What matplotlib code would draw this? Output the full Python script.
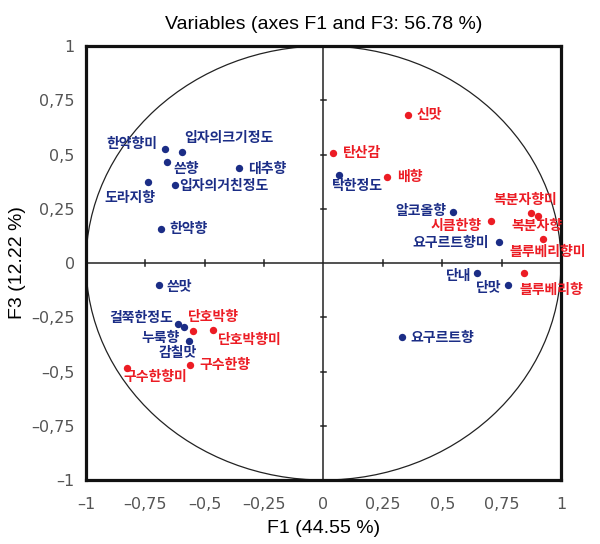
import matplotlib
matplotlib.use("Agg")
import matplotlib.pyplot as plt
import numpy as np
from matplotlib.patches import Circle
from matplotlib.ticker import FuncFormatter

# variable names, coordinates on F1/F3, and group (b = blue, r = red)
names = [
    "한약향미", "입자의크기정도", "쓴향", "대추향", "도라지향", "입자의거친정도", "한약향",
    "신맛", "탄산감", "탁한정도", "배향", "알코올향", "시큼한향", "복분자향미", "복분자향",
    "블루베리향미", "요구르트향미", "단내", "단맛", "블루베리향", "요구르트향",
    "쓴맛", "걸쭉한정도", "누룩향", "감칠맛", "단호박향", "단호박향미", "구수한향", "구수한향미",
]
f1 = [
    -0.667, -0.594, -0.658, -0.354, -0.740, -0.625, -0.686,
    0.354, 0.041, 0.067, 0.266, 0.544, 0.705, 0.874, 0.902,
    0.923, 0.739, 0.645, 0.776, 0.846, 0.329,
    -0.693, -0.611, -0.586, -0.565, -0.548, -0.467, -0.562, -0.829,
]
f3 = [
    0.524, 0.512, 0.466, 0.440, 0.375, 0.358, 0.159,
    0.683, 0.509, 0.406, 0.398, 0.236, 0.193, 0.232, 0.216,
    0.113, 0.098, -0.045, -0.099, -0.048, -0.343,
    -0.102, -0.279, -0.296, -0.361, -0.312, -0.307, -0.472, -0.484,
]
group = [
    "b", "b", "b", "b", "b", "b", "b",
    "r", "r", "b", "r", "b", "r", "r", "r",
    "r", "b", "b", "b", "r", "b",
    "b", "b", "b", "b", "r", "r", "r", "r",
]
# label placement: (dx px, dy px, ha)
label_pos = [
    (-8, 5, "right"), (2, 14, "left"), (6, -7, "left"), (9, -1, "left"),
    (-18, -16, "center"), (4, -1, "left"), (9, 0, "left"),
    (9, 0, "left"), (10, 0, "left"), (18, -11, "center"), (10, 0, "left"),
    (-6, 1, "right"), (-9, -5, "right"), (-6, 13, "center"), (-1, -10, "center"),
    (5, -13, "center"), (-10, -1, "right"), (-5, -3, "right"), (-6, -3, "right"),
    (27, -16, "center"), (9, -1, "left"),
    (8, -2, "left"), (-5, 6, "right"), (-5, -11, "right"), (-12, -12, "center"),
    (20, 14, "center"), (5, -10, "left"), (9, 0, "left"), (29, -9, "center"),
]
ticks = [-1, -0.75, -0.5, -0.25, 0, 0.25, 0.5, 0.75, 1]
inner_ticks = [-0.75, -0.5, -0.25, 0.25, 0.5, 0.75]

colors = {"b": "#1b2d86", "r": "#ec1c24"}
kr_font = ["Noto Sans CJK KR", "DejaVu Sans"]
latin = ["Liberation Sans", "DejaVu Sans"]

fig = plt.figure(figsize=(6.0, 5.44), dpi=100)
ax = fig.add_axes([0.1433, 0.1176, 0.7917, 0.7978])
ax.set_xlim(-1, 1)
ax.set_ylim(-1, 1)

ax.add_patch(Circle((0, 0), 1, fill=False, lw=0.9, color="#222222", zorder=1))
ax.axhline(0, color="#222222", lw=1.1, zorder=1)
ax.axvline(0, color="#222222", lw=1.1, zorder=1)
dx, dy = 0.011, 0.012
for t in inner_ticks:
    ax.plot([t, t], [-dy, dy], color="#222222", lw=1.1, zorder=1)
    ax.plot([-dx, dx], [t, t], color="#222222", lw=1.1, zorder=1)

for x, y, n, g, (ox, oy, ha) in zip(f1, f3, names, group, label_pos):
    c = colors[g]
    ax.scatter(x, y, s=28, color=c, zorder=3, linewidths=0)
    ax.annotate(n, (x, y), xytext=(ox, oy), textcoords="offset pixels",
                ha=ha, va="center", color=c, fontsize=10, fontweight="bold",
                family=kr_font, zorder=4)

for s in ax.spines.values():
    s.set_linewidth(2.3)
    s.set_color("#111111")

fmt = FuncFormatter(lambda v, p: ("\u2013" if v < 0 else "") + f"{abs(v):g}".replace(".", ","))
ax.set_xticks(ticks)
ax.set_yticks(ticks)
ax.xaxis.set_major_formatter(fmt)
ax.yaxis.set_major_formatter(fmt)
ax.tick_params(length=0, labelsize=11.5, labelcolor="#555555", pad=12)
ax.tick_params(axis="y", pad=8)
for lab in ax.get_xticklabels() + ax.get_yticklabels():
    lab.set_family(["Liberation Sans Narrow", "DejaVu Sans"])

ax.set_title("Variables (axes F1 and F3: 56.78 %)", fontsize=14, pad=12, family=latin)
ax.set_xlabel("F1 (44.55 %)", fontsize=14, labelpad=6, family=latin)
ax.set_ylabel("F3 (12.22 %)", fontsize=14, labelpad=4, family=latin)

fig.savefig("out.png", dpi=100)
